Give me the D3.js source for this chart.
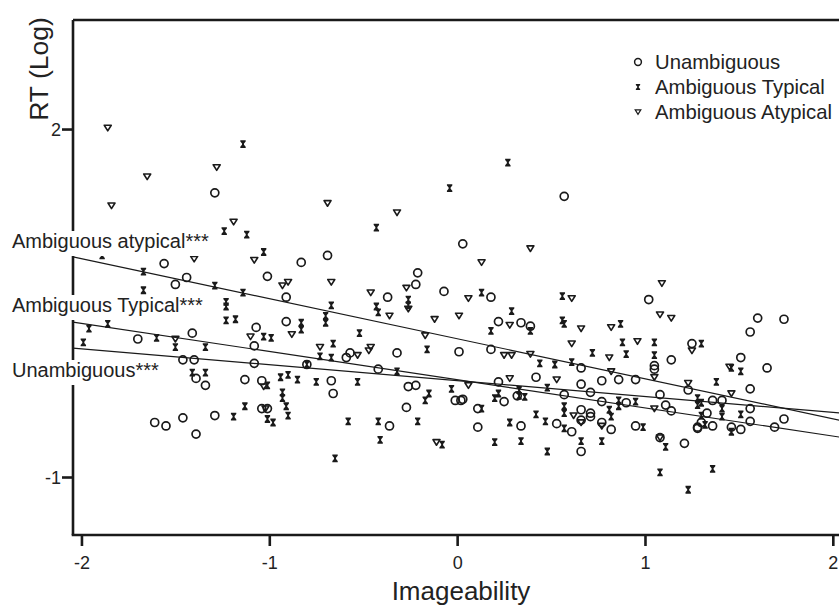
<!DOCTYPE html>
<html>
<head>
<meta charset="utf-8">
<script src="https://cdn.jsdelivr.net/npm/d3@7"></script>
<style>
	html, body { margin: 0; padding: 0; background: #fff; overflow: hidden; }
	svg { display: block; font-family: "Liberation Sans", Arial, sans-serif; }
</style>
</head>
<body>
<div id="container"></div>
<script>
// series names (legend order)
const seriesNames = ["Unambiguous", "Ambiguous Typical", "Ambiguous Atypical"];

// [imageability, RT (log)]
const unambiguous = [
	[-1.29,1.45],[-1.56,0.84],[-0.83,0.85],[-0.69,0.91],[-1.44,0.72],[-1.50,0.66],[-1.01,0.73],[-0.91,0.55],
	[-0.37,0.55],[-0.22,0.66],[-0.21,0.76],[0.03,1.01],[0.57,1.42],[-0.07,0.60],[0.18,0.55],[1.02,0.53],
	[0.22,0.34],[0.34,0.33],[0.39,0.30],[1.25,0.15],[0.18,0.10],[1.14,0.01],[0.01,0.08],[-0.57,0.07],
	[-0.59,0.03],[-0.32,0.07],[-1.07,0.29],[-1.70,0.19],[-1.41,0.24],[-1.08,0.13],[-1.46,0.01],[-1.40,0.01],
	[-0.91,0.34],[-1.08,-0.02],[-0.80,-0.03],[-0.42,-0.07],[-0.67,-0.17],[-0.66,-0.28],[-0.26,-0.22],[-0.22,-0.21],
	[-1.39,-0.15],[-1.34,-0.21],[-1.13,-0.16],[-1.04,-0.17],[-0.27,-0.40],[-0.36,-0.56],[-1.04,-0.41],[-1.01,-0.41],
	[-1.61,-0.53],[-1.55,-0.56],[-1.46,-0.49],[-1.39,-0.63],[-1.29,-0.47],[-0.01,-0.34],[0.02,-0.34],[0.03,-0.33],
	[0.11,-0.41],[0.11,-0.57],[0.66,-0.06],[1.05,-0.04],[1.05,-0.07],[0.86,-0.16],[0.95,-0.16],[0.22,-0.18],
	[0.42,-0.14],[0.66,-0.20],[0.77,-0.17],[0.32,-0.30],[0.25,-0.35],[0.57,-0.29],[0.71,-0.27],[0.90,-0.36],
	[0.77,-0.35],[1.08,-0.29],[1.23,-0.25],[1.11,-0.38],[1.14,-0.43],[0.66,-0.42],[0.71,-0.45],[0.71,-0.48],
	[0.66,-0.51],[0.77,-0.53],[0.82,-0.59],[0.34,-0.56],[0.53,-0.54],[0.61,-0.61],[0.95,-0.56],[1.28,-0.58],
	[0.66,-0.78],[1.08,-0.66],[1.21,-0.71],[1.60,0.37],[1.74,0.36],[1.56,0.25],[1.51,0.03],[1.65,-0.06],
	[1.56,-0.24],[1.36,-0.34],[1.41,-0.34],[1.33,-0.45],[1.56,-0.41],[1.30,-0.53],[1.28,-0.57],[1.36,-0.56],
	[1.46,-0.57],[1.51,-0.59],[1.56,-0.52],[1.69,-0.57],[1.74,-0.50]
];

const ambiguousTypical = [
	[-1.14,1.87],[-1.24,1.12],[-1.12,1.09],[-0.43,1.15],[-0.04,1.49],[0.27,1.71],[-1.03,0.94],[-1.67,0.77],
	[-1.29,0.65],[-1.14,0.59],[-1.89,0.91],[-1.67,0.61],[-0.26,0.53],[-0.26,0.48],[0.13,0.59],[0.56,0.56],
	[0.29,0.43],[0.56,0.35],[0.57,0.32],[0.39,0.26],[0.87,0.32],[0.88,0.16],[1.05,0.16],[1.30,0.15],
	[0.72,0.07],[0.90,0.06],[1.05,0.05],[-0.67,0.48],[-0.43,0.47],[-0.42,0.42],[-0.70,0.39],[-0.70,0.33],
	[-0.83,0.33],[-0.83,0.27],[-0.52,0.24],[0.18,0.26],[-0.66,0.15],[-0.16,0.10],[-0.73,0.04],[-0.67,0.03],
	[-1.23,0.51],[-1.23,0.47],[-1.23,0.35],[-1.18,0.36],[-1.96,0.28],[-1.86,0.32],[-1.60,0.20],[-1.50,0.12],
	[-1.99,0.16],[-1.34,0.12],[-1.03,0.21],[-0.99,0.20],[-0.80,-0.03],[-0.32,-0.09],[-1.41,-0.10],[-1.34,-0.10],
	[-1.01,-0.21],[-0.94,-0.14],[-0.90,-0.12],[-0.85,-0.16],[-0.75,-0.18],[-0.53,-0.18],[-0.93,-0.27],[-0.93,-0.32],
	[-0.91,-0.39],[-0.90,-0.47],[-1.13,-0.39],[-1.19,-0.48],[-1.01,-0.50],[-0.98,-0.53],[-0.58,-0.52],[-0.42,-0.52],
	[-0.41,-0.68],[-0.65,-0.84],[-0.21,-0.52],[-0.15,-0.28],[-0.17,-0.34],[-0.03,-0.24],[0.13,-0.41],[-0.08,-0.72],
	[0.44,-0.02],[0.52,-0.03],[0.61,-0.01],[0.33,-0.25],[0.33,-0.30],[0.36,-0.31],[0.48,-0.23],[0.22,-0.28],
	[0.20,-0.32],[0.86,-0.34],[0.86,-0.39],[0.95,-0.35],[1.28,-0.32],[1.28,-0.38],[0.57,-0.39],[0.57,-0.45],
	[0.81,-0.42],[0.82,-0.48],[0.42,-0.46],[0.47,-0.52],[0.28,-0.53],[0.57,-0.58],[0.99,-0.57],[0.20,-0.70],
	[0.34,-0.69],[0.66,-0.69],[0.77,-0.69],[0.48,-0.78],[1.11,-0.74],[1.08,-0.96],[1.23,-1.11],[1.46,-0.06],
	[1.51,-0.09],[1.38,-0.18],[1.30,-0.36],[1.41,-0.41],[1.41,-0.48],[1.51,-0.46],[1.30,-0.47],[1.32,-0.55],
	[1.46,-0.61],[1.36,-0.93]
];

const ambiguousAtypical = [
	[-1.86,2.01],[-1.65,1.59],[-1.28,1.67],[-1.84,1.34],[-0.69,1.36],[-0.32,1.28],[-1.19,1.20],[-1.40,0.88],
	[-1.08,0.87],[-0.93,0.65],[-0.90,0.68],[-0.67,0.68],[-0.46,0.59],[-0.27,0.63],[0.39,0.97],[0.13,0.85],
	[1.09,0.67],[0.06,0.54],[0.61,0.54],[0.28,0.31],[0.66,0.28],[0.82,0.29],[1.08,0.40],[1.14,0.37],
	[0.96,0.17],[0.61,0.15],[0.25,0.05],[0.29,0.05],[0.39,0.06],[0.81,0.03],[-0.26,0.45],[-0.36,0.39],
	[-0.12,0.36],[0.01,0.39],[-0.88,0.23],[-0.17,0.22],[-0.73,0.12],[-0.46,0.12],[-0.47,0.09],[-0.53,0.05],
	[-1.50,0.19],[-1.10,0.21],[-1.03,-0.22],[-1.02,-0.41],[0.06,-0.21],[-0.11,-0.70],[1.05,-0.14],[0.82,-0.09],
	[0.28,-0.15],[0.53,-0.16],[1.23,-0.19],[1.05,-0.41],[0.62,-0.47],[0.66,-0.53],[0.77,-0.56],[1.08,-0.66],
	[1.25,0.09],[1.45,-0.05],[1.46,-0.28]
];

// fit lines: intercept, slope, label
const fitNames = ["Ambiguous atypical***", "Ambiguous Typical***", "Unambiguous***"];
const fitIntercepts = [0.192, -0.161, -0.169];
const fitSlopes = [-0.345, -0.243, -0.137];

const xTicks = [-2, -1, 0, 1, 2];
const yTicks = [2, -1];

const w = 839; // canvas width
const h = 605; // canvas height
const padLeft = 73, padRight = 861, padTop = 20, padBottom = 535; // plot frame (right edge runs off the picture)
const ink = "#1a1a1a";

const svg = d3.select("#container").append("svg").attr("width", w).attr("height", h);

const xScale = d3.scaleLinear().domain([-2.045, 2.15]).range([padLeft, padRight]);
const yScale = d3.scaleLinear().domain([-1.5, 2.94]).range([padBottom, padTop]);

// markers
const hourglass = "M-2.7,-3.9H2.7V-2.6L1,-0.6V0.6L2.7,2.6V3.9H-2.7V2.6L-1,0.6V-0.6L-2.7,-2.6Z";
const triangle = "M-3.5,-2.6L3.5,-2.6L0,3Z";

const marks = svg.append("g");

marks.selectAll("circle.u").data(unambiguous).enter().append("circle").attr("class", "u")
	.attr("cx", (d) => xScale(d[0])).attr("cy", (d) => yScale(d[1])).attr("r", 4)
	.attr("fill", "none").attr("stroke", ink).attr("stroke-width", 1.7);

marks.selectAll("path.a").data(ambiguousAtypical).enter().append("path").attr("class", "a")
	.attr("d", triangle).attr("transform", (d) => `translate(${xScale(d[0])},${yScale(d[1])})`)
	.attr("fill", "none").attr("stroke", ink).attr("stroke-width", 1.6).attr("stroke-linejoin", "round");

marks.selectAll("path.t").data(ambiguousTypical).enter().append("path").attr("class", "t")
	.attr("d", hourglass).attr("transform", (d) => `translate(${xScale(d[0])},${yScale(d[1])})`)
	.attr("fill", ink);

// regression lines
const xd = xScale.domain();
svg.selectAll("line.fit").data(fitIntercepts).enter().append("line").attr("class", "fit")
	.attr("x1", xScale(xd[0])).attr("y1", (d, i) => yScale(d + fitSlopes[i] * xd[0]))
	.attr("x2", xScale(xd[1])).attr("y2", (d, i) => yScale(d + fitSlopes[i] * xd[1]))
	.attr("stroke", ink).attr("stroke-width", 1.2);

// frame
svg.append("line").attr("x1", padLeft).attr("x2", padRight).attr("y1", padTop).attr("y2", padTop).attr("stroke", ink).attr("stroke-width", 2.4);
svg.append("line").attr("x1", padLeft).attr("x2", padLeft).attr("y1", padTop).attr("y2", padBottom).attr("stroke", ink).attr("stroke-width", 2.6);

// axes (plain hyphen minus, as in the picture)
const xAxis = d3.axisBottom(xScale).tickValues(xTicks).tickSize(11).tickPadding(5).tickFormat((d) => String(d));
const gx = svg.append("g").attr("transform", `translate(0, ${padBottom})`).call(xAxis);
const yAxis = d3.axisLeft(yScale).tickValues(yTicks).tickSize(11).tickPadding(1).tickFormat((d) => String(d));
const gy = svg.append("g").attr("transform", `translate(${padLeft}, 0)`).call(yAxis);

[gx, gy].forEach(g => {
	g.select(".domain").remove();
	g.selectAll(".tick line").attr("stroke", ink).attr("stroke-width", 2.6);
	g.selectAll(".tick text").attr("fill", "#222").style("font-size", "18px").style("font-family", "Liberation Sans, Arial, sans-serif");
});
gx.selectAll(".tick text").attr("dy", "1em");
gy.selectAll(".tick text").attr("dy", "0.36em");
svg.append("line").attr("x1", padLeft - 1.3).attr("x2", padRight).attr("y1", padBottom).attr("y2", padBottom).attr("stroke", ink).attr("stroke-width", 2.6);

// axis titles
svg.append("text").attr("x", 461).attr("y", 600).attr("text-anchor", "middle")
	.style("font-size", "26px").attr("fill", "#222").text("Imageability");
svg.append("text").attr("transform", "translate(48, 69) rotate(-90)").attr("text-anchor", "middle")
	.style("font-size", "26.5px").attr("fill", "#222").text("RT (Log)");

// legend
const legendMarks = [
	(g) => g.append("circle").attr("r", 3.4).attr("fill", "none").attr("stroke", ink).attr("stroke-width", 1.5),
	(g) => g.append("path").attr("d", hourglass).attr("transform", "scale(0.8)").attr("fill", ink),
	(g) => g.append("path").attr("d", triangle).attr("transform", "scale(0.8)").attr("fill", "none").attr("stroke", ink).attr("stroke-width", 1.5)
];
seriesNames.forEach((name, i) => {
	const g = svg.append("g").attr("transform", `translate(638, ${62 + i * 25})`);
	legendMarks[i](g);
	g.append("text").attr("x", 17).attr("y", 7).style("font-size", "20.3px").attr("fill", "#222").text(name);
});

// fit labels, on white boxes over the axis
const labelY = [248, 312, 377];
fitNames.forEach((name, i) => {
	const g = svg.append("g");
	const box = g.append("rect").attr("fill", "#fff");
	const t = g.append("text").attr("x", 12).attr("y", labelY[i]).style("font-size", "20px").attr("fill", "#222").text(name);
	const b = t.node().getBBox();
	box.attr("x", b.x - 2).attr("y", b.y + 1).attr("width", b.width + 4).attr("height", b.height + 3);
});
</script>
</body>
</html>
